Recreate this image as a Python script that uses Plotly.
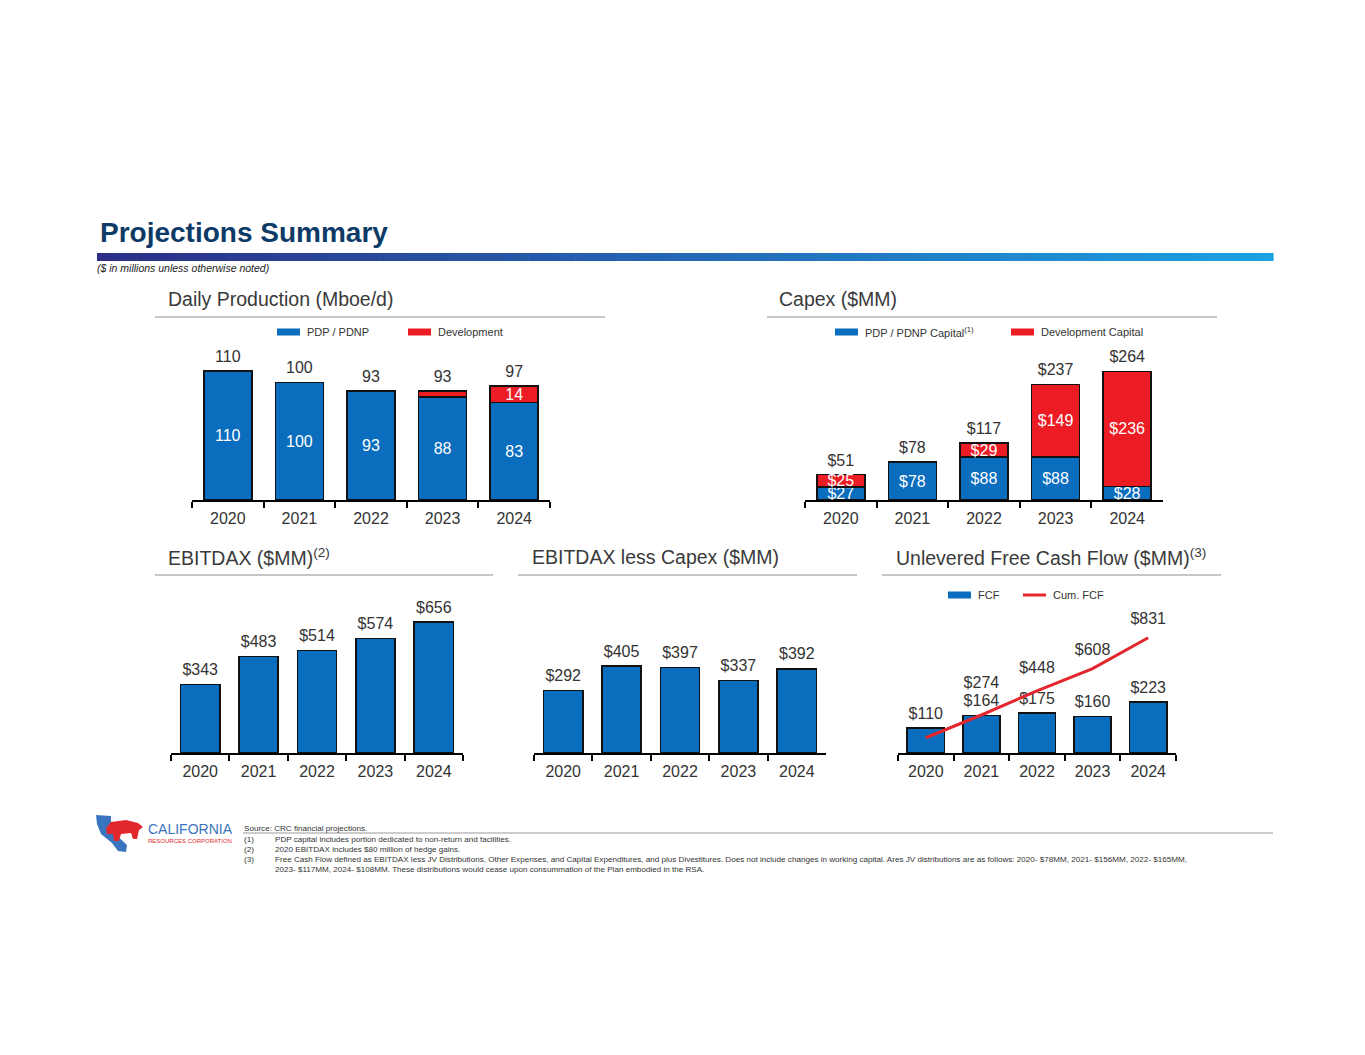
import plotly.graph_objects as go

# page size in px, everything is laid out in paper coords
W, H = 1365, 1055


def fx(x):
    return x / W


def fy(y):
    return 1 - y / H


years = ["2020", "2021", "2022", "2023", "2024"]

prod_pdp = [110, 100, 93, 88, 83]
prod_dev = [0, 0, 0.5, 5, 14]
prod_total = [110, 100, 93, 93, 97]
prod_dev_labels = ["", "", "", "", "14"]

capex_pdp = [27, 78, 88, 88, 28]
capex_dev = [25, 0, 29, 149, 236]
capex_total = [51, 78, 117, 237, 264]

ebitdax = [343, 483, 514, 574, 656]
ebitdax_less_capex = [292, 405, 397, 337, 392]

fcf = [110, 164, 175, 160, 223]
cum_fcf = [110, 274, 448, 608, 831]
cum_fcf_labels = ["", "$274", "$448", "$608", "$831"]

footnotes = [
    ("(1)", "PDP capital includes portion dedicated to non-return and facilities."),
    ("(2)", "2020 EBITDAX includes $80 million of hedge gains."),
    ("(3)", "Free Cash Flow defined as EBITDAX less JV Distributions, Other Expenses, and Capital Expenditures, "
            "and plus Divestitures. Does not include changes in working capital. Ares JV distributions are as "
            "follows: 2020- $78MM, 2021- $156MM, 2022- $165MM,"),
    ("", "2023- $117MM, 2024- $108MM. These distributions would cease upon consummation of the Plan embodied in the RSA."),
]

BLUE = "#0A6DBE"
RED = "#EC1C24"
DARK = "#333333"
FONT = "Liberation Sans"


def money(vals):
    return ["$%d" % v if v else "" for v in vals]


fig = go.Figure()

bar_style = dict(width=0.67, marker_line_color="#111111", marker_line_width=1.5,
                 textposition="inside", insidetextanchor="middle", constraintext="none",
                 textangle=0, textfont=dict(color="white", size=16, family=FONT),
                 showlegend=False, hoverinfo="skip")
# invisible markers push the labels a little further above the bar tops
total_style = dict(mode="markers+text", textposition="top center", cliponaxis=False,
                   marker=dict(size=7, opacity=0, line_width=0),
                   textfont=dict(color=DARK, size=16, family=FONT),
                   showlegend=False, hoverinfo="skip")

# daily production
fig.add_trace(go.Bar(x=years, y=prod_pdp, text=[str(v) for v in prod_pdp],
                     marker_color=BLUE, xaxis="x", yaxis="y", **bar_style))
fig.add_trace(go.Bar(x=years, y=prod_dev, text=prod_dev_labels,
                     marker_color=RED, xaxis="x", yaxis="y", **bar_style))
fig.add_trace(go.Scatter(x=years, y=prod_total, text=[str(v) for v in prod_total],
                         xaxis="x", yaxis="y", **total_style))

# capex
fig.add_trace(go.Bar(x=years, y=capex_pdp, text=money(capex_pdp),
                     marker_color=BLUE, xaxis="x2", yaxis="y2", **bar_style))
fig.add_trace(go.Bar(x=years, y=capex_dev, text=money(capex_dev),
                     marker_color=RED, xaxis="x2", yaxis="y2", **bar_style))
fig.add_trace(go.Scatter(x=years, y=capex_total, text=money(capex_total),
                         xaxis="x2", yaxis="y2", **total_style))

# ebitdax
fig.add_trace(go.Bar(x=years, y=ebitdax, marker_color=BLUE, xaxis="x3", yaxis="y3", **bar_style))
fig.add_trace(go.Scatter(x=years, y=ebitdax, text=money(ebitdax), xaxis="x3", yaxis="y3", **total_style))

# ebitdax less capex
fig.add_trace(go.Bar(x=years, y=ebitdax_less_capex, marker_color=BLUE, xaxis="x4", yaxis="y4", **bar_style))
fig.add_trace(go.Scatter(x=years, y=ebitdax_less_capex, text=money(ebitdax_less_capex),
                         xaxis="x4", yaxis="y4", **total_style))

# free cash flow
fig.add_trace(go.Bar(x=years, y=fcf, marker_color=BLUE, xaxis="x5", yaxis="y5", **bar_style))
fig.add_trace(go.Scatter(x=years, y=fcf, text=money(fcf), xaxis="x5", yaxis="y5", **total_style))
fig.add_trace(go.Scatter(x=years, y=cum_fcf, mode="lines", line=dict(color="#E3262B", width=3),
                         xaxis="x5", yaxis="y6", showlegend=False, hoverinfo="skip"))
fig.add_trace(go.Scatter(x=years, y=cum_fcf, text=cum_fcf_labels, mode="markers+text",
                         textposition="top center", cliponaxis=False,
                         marker=dict(size=[0, 36, 20, 14, 14], opacity=0, line_width=0),
                         textfont=dict(color=DARK, size=16, family=FONT),
                         xaxis="x5", yaxis="y6", showlegend=False, hoverinfo="skip"))

annotations = []

# axes
xcommon = dict(type="category", showline=True, linecolor="black", linewidth=2,
               ticks="outside", ticklen=6, tickwidth=1.5, tickcolor="black",
               tickson="boundaries", showgrid=False, zeroline=False, fixedrange=True,
               ticklabelstandoff=3,
               tickfont=dict(size=16, color=DARK, family=FONT), range=[-0.5, 4.5])
ycommon = dict(visible=False, showgrid=False, zeroline=False, fixedrange=True)

top_y = [fy(500), fy(340)]
bot_y = [fy(753), fy(593)]

layout_axes = dict(
    xaxis=dict(domain=[fx(192), fx(550)], anchor="y", **xcommon),
    yaxis=dict(domain=top_y, anchor="x", range=[0, 136.4], **ycommon),
    xaxis2=dict(domain=[fx(805), fx(1163)], anchor="y2", **xcommon),
    yaxis2=dict(domain=top_y, anchor="x2", range=[0, 328.5], **ycommon),
    xaxis3=dict(domain=[fx(171), fx(463)], anchor="y3", **xcommon),
    yaxis3=dict(domain=bot_y, anchor="x3", range=[0, 802], **ycommon),
    xaxis4=dict(domain=[fx(534), fx(826)], anchor="y4", **xcommon),
    yaxis4=dict(domain=bot_y, anchor="x4", range=[0, 745], **ycommon),
    xaxis5=dict(domain=[fx(898), fx(1176)], anchor="y5", **xcommon),
    yaxis5=dict(domain=bot_y, anchor="x5", range=[0, 702], **ycommon),
    yaxis6=dict(overlaying="y5", anchor="x5", range=[0, 1153.6], **ycommon),
)

shapes = []

# gradient rule under the title
n = 150
x0, x1 = 97, 1273
c0, c1 = (44, 46, 135), (27, 161, 226)
for i in range(n):
    t = i / (n - 1)
    col = "rgb(%d,%d,%d)" % tuple(round(a + (b - a) * t) for a, b in zip(c0, c1))
    xa = x0 + (x1 - x0) * i / n
    xb = x0 + (x1 - x0) * (i + 1) / n + 0.6
    shapes.append(dict(type="rect", xref="paper", yref="paper", x0=fx(xa), x1=fx(xb),
                       y0=fy(261), y1=fy(253), fillcolor=col, line_width=0, layer="above"))

annotations.append(dict(x=fx(98), y=fy(232), xref="paper", yref="paper", xanchor="left", yanchor="middle",
                        text="<b>Projections Summary</b>", showarrow=False,
                        font=dict(size=28, color="#0D3A66", family=FONT)))
annotations.append(dict(x=fx(95), y=fy(268), xref="paper", yref="paper", xanchor="left", yanchor="middle",
                        text="<i>($ in millions unless otherwise noted)</i>", showarrow=False,
                        font=dict(size=10.5, color="#222222", family=FONT)))

# panel titles + rules
panels = [
    ("Daily Production (Mboe/d)", 168, 299, 155, 605, 317),
    ("Capex ($MM)", 779, 299, 767, 1217, 317),
    ("EBITDAX ($MM)<sup>(2)</sup>", 168, 557, 155, 493, 575),
    ("EBITDAX less Capex ($MM)", 532, 557, 518, 857, 575),
    ("Unlevered Free Cash Flow ($MM)<sup>(3)</sup>", 896, 557, 882, 1221, 575),
]
for title, tx, ty, lx0, lx1, ly in panels:
    annotations.append(dict(x=fx(tx - 2), y=fy(ty), xref="paper", yref="paper", xanchor="left",
                            yanchor="middle", text=title, showarrow=False,
                            font=dict(size=19.5, color="#3A3A3A", family=FONT)))
    shapes.append(dict(type="line", xref="paper", yref="paper", x0=fx(lx0), x1=fx(lx1),
                       y0=fy(ly), y1=fy(ly), line=dict(color="#8C8C8C", width=1)))

# legends
legend_items = [
    ("rect", BLUE, 277, 332, "PDP / PDNP"),
    ("rect", RED, 408, 332, "Development"),
    ("rect", BLUE, 835, 332, "PDP / PDNP Capital<sup>(1)</sup>"),
    ("rect", RED, 1011, 332, "Development Capital"),
    ("rect", BLUE, 948, 595, "FCF"),
    ("line", "#E3262B", 1023, 595, "Cum. FCF"),
]
for kind, col, sx, sy, label in legend_items:
    if kind == "rect":
        shapes.append(dict(type="rect", xref="paper", yref="paper", x0=fx(sx), x1=fx(sx + 23),
                           y0=fy(sy + 3.5), y1=fy(sy - 3.5), fillcolor=col, line_width=0))
    else:
        shapes.append(dict(type="line", xref="paper", yref="paper", x0=fx(sx), x1=fx(sx + 23),
                           y0=fy(sy), y1=fy(sy), line=dict(color=col, width=3)))
    annotations.append(dict(x=fx(sx + 28), y=fy(sy), xref="paper", yref="paper", xanchor="left",
                            yanchor="middle", text=label, showarrow=False,
                            font=dict(size=11, color=DARK, family=FONT)))

# footer logo (rough)
shapes.append(dict(type="path", xref="paper", yref="paper", fillcolor="#3B74BE", line_width=0,
                   path="M %f %f L %f %f L %f %f L %f %f L %f %f L %f %f L %f %f L %f %f L %f %f Z" % (
                       fx(96), fy(815), fx(111), fy(816), fx(111), fy(830), fx(127), fy(845),
                       fx(126), fy(852), fx(118), fy(851), fx(112), fy(843), fx(101), fy(834), fx(97), fy(824))))
bear = [(106, 828), (111, 822), (126, 820), (134, 822), (138, 823), (143, 827), (139, 830),
        (137, 839), (133, 839), (131, 833), (121, 834), (119, 841), (114, 841), (113, 834), (107, 834)]
shapes.append(dict(type="path", xref="paper", yref="paper", fillcolor="#E2282D", line_width=0,
                   path="M " + " L ".join("%f %f" % (fx(a), fy(b)) for a, b in bear) + " Z"))
annotations.append(dict(x=fx(146), y=fy(829), xref="paper", yref="paper", xanchor="left", yanchor="middle",
                        text="CALIFORNIA", showarrow=False,
                        font=dict(size=14, color="#3B74BE", family=FONT)))
annotations.append(dict(x=fx(146), y=fy(840.5), xref="paper", yref="paper", xanchor="left", yanchor="middle",
                        text="RESOURCES CORPORATION", showarrow=False,
                        font=dict(size=6, color="#E2282D", family=FONT)))

# footnotes
shapes.append(dict(type="line", xref="paper", yref="paper", x0=fx(243), x1=fx(1273),
                   y0=fy(833), y1=fy(833), line=dict(color="#9A9A9A", width=1)))
annotations.append(dict(x=fx(242), y=fy(828), xref="paper", yref="paper", xanchor="left", yanchor="middle",
                        text="Source: CRC financial projections.", showarrow=False,
                        font=dict(size=8.1, color=DARK, family=FONT)))
for i, (num, txt) in enumerate(footnotes):
    yy = 839 + i * 10.3
    if num:
        annotations.append(dict(x=fx(242), y=fy(yy), xref="paper", yref="paper", xanchor="left",
                                yanchor="middle", text=num, showarrow=False,
                                font=dict(size=8.1, color=DARK, family=FONT)))
    annotations.append(dict(x=fx(273), y=fy(yy), xref="paper", yref="paper", xanchor="left",
                            yanchor="middle", text=txt, showarrow=False,
                            font=dict(size=8.1, color=DARK, family=FONT)))

fig.update_layout(
    width=W, height=H, autosize=False,
    margin=dict(l=0, r=0, t=0, b=0),
    paper_bgcolor="white", plot_bgcolor="rgba(0,0,0,0)",
    barmode="stack", showlegend=False,
    font=dict(family=FONT, color=DARK),
    shapes=shapes, annotations=annotations,
    **layout_axes,
)

fig.write_html("out.html", config={"displayModeBar": False},
               post_script="document.body.style.margin='0';")
